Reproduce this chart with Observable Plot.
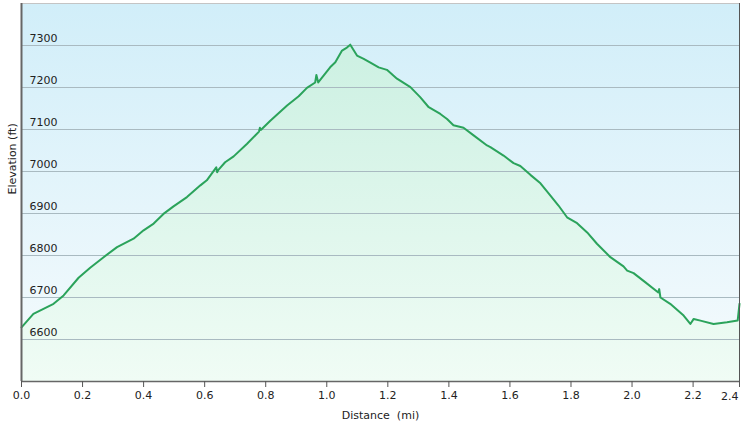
<!DOCTYPE html>
<html><head><meta charset="utf-8">
<script src="https://cdn.jsdelivr.net/npm/d3@7"></script>
<script src="https://cdn.jsdelivr.net/npm/@observablehq/plot@0.6"></script>
<style>body{margin:0;background:#fff;} svg{display:block;}</style>
</head><body><div id="chart"></div>
<script>
const distance = [0, 0.039, 0.105, 0.138, 0.187, 0.225, 0.269, 0.313, 0.367, 0.400, 0.433, 0.465, 0.498, 0.542, 0.586, 0.607, 0.638, 0.641, 0.645, 0.667, 0.695, 0.739, 0.778, 0.781, 0.784, 0.815, 0.870, 0.908, 0.935, 0.962, 0.966, 0.972, 1.011, 1.028, 1.050, 1.066, 1.077, 1.099, 1.121, 1.143, 1.170, 1.197, 1.230, 1.274, 1.306, 1.334, 1.372, 1.394, 1.415, 1.448, 1.481, 1.525, 1.536, 1.579, 1.612, 1.634, 1.667, 1.700, 1.732, 1.759, 1.787, 1.820, 1.853, 1.885, 1.929, 1.972, 1.984, 2.005, 2.044, 2.086, 2.089, 2.093, 2.125, 2.169, 2.191, 2.202, 2.224, 2.267, 2.311, 2.346, 2.352];
const elevation = [6629, 6661, 6685, 6705, 6747, 6771, 6796, 6820, 6840, 6860, 6876, 6899, 6917, 6939, 6967, 6979, 7010, 6998, 7004, 7022, 7036, 7066, 7095, 7104, 7099, 7121, 7157, 7179, 7199, 7212, 7230, 7212, 7248, 7260, 7288, 7295, 7302, 7276, 7268, 7259, 7248, 7242, 7221, 7201, 7177, 7153, 7137, 7125, 7110, 7104, 7086, 7062, 7058, 7038, 7020, 7013, 6992, 6972, 6943, 6919, 6891, 6877, 6855, 6828, 6796, 6774, 6764, 6758, 6736, 6712, 6720, 6700, 6685, 6657, 6637, 6649, 6645, 6637, 6641, 6645, 6685];
const yTicks = [6600, 6700, 6800, 6900, 7000, 7100, 7200, 7300];
const xTicks = [0, 0.2, 0.4, 0.6, 0.8, 1.0, 1.2, 1.4, 1.6, 1.8, 2.0, 2.2];
const xTickLabels = ["0.0", "0.2", "0.4", "0.6", "0.8", "1.0", "1.2", "1.4", "1.6", "1.8", "2.0", "2.2"];
const xEndTick = [2.352];
const xEndLabel = ["2.4"];
const xLabel = "Distance\u00a0 (mi)";
const yLabel = "Elevation (ft)";

const data = distance.map((d, i) => ({d, e: elevation[i]}));

const defs = () => {
  const g = document.createElementNS("http://www.w3.org/2000/svg", "defs");
  g.innerHTML = `
    <linearGradient id="bg" gradientUnits="userSpaceOnUse" x1="0" y1="3" x2="0" y2="381">
      <stop offset="0" stop-color="#d1eef9"/><stop offset="1" stop-color="#f6fbfd"/>
    </linearGradient>
    <linearGradient id="ag" gradientUnits="userSpaceOnUse" x1="0" y1="3" x2="0" y2="381">
      <stop offset="0" stop-color="#c8efe0"/><stop offset="1" stop-color="#f0fcf5"/>
    </linearGradient>`;
  return g;
};

const chart = Plot.plot({
  width: 741,
  height: 424,
  marginLeft: 21,
  marginRight: 2,
  marginTop: 3,
  marginBottom: 43,
  style: {fontFamily: "DejaVu Sans, Verdana, sans-serif", fontSize: "11px", background: "white", color: "#222"},
  x: {domain: [0, 2.352], axis: null},
  y: {domain: [6500, 7400], axis: null},
  marks: [
    defs,
    Plot.frame({fill: "url(#bg)", stroke: "#c4c4c4"}),
    Plot.areaY(data, {x: "d", y1: 6500, y2: "e", fill: "url(#ag)"}),
    Plot.ruleY(yTicks, {stroke: "#a9bac1", strokeWidth: 1}),
    Plot.text(yTicks, {x: 0, y: d => d, text: d => String(d), textAnchor: "start", dx: 8, dy: -7, fill: "#222"}),
    Plot.line(data, {x: "d", y: "e", stroke: "#2ba35b", strokeWidth: 2}),
    Plot.ruleX([0], {stroke: "#666", strokeWidth: 2}),
    Plot.ruleY([6500], {stroke: "#666", strokeWidth: 1.5}),
    Plot.axisX({ticks: xTicks, tickFormat: d => xTickLabels[xTicks.indexOf(d)], tickSize: 6, tickPadding: 4, label: null, stroke: "#555", fill: "#222"}),
    Plot.tickX(xEndTick, {x: d => d, y1: 6500, y2: 6500, stroke: "#555", insetBottom: -6}),
    Plot.text(xEndTick, {x: d => d, text: (d, i) => xEndLabel[i], frameAnchor: "bottom", textAnchor: "end", lineAnchor: "middle", dy: 15, dx: -1, fill: "#222"}),
    Plot.text([xLabel], {frameAnchor: "bottom", lineAnchor: "middle", dy: 34, fill: "#222"}),
    Plot.text([yLabel], {frameAnchor: "left", lineAnchor: "middle", rotate: -90, dx: -9, dy: 2, fill: "#222"})
  ]
});
document.getElementById("chart").appendChild(chart);
</script>
</body></html>
